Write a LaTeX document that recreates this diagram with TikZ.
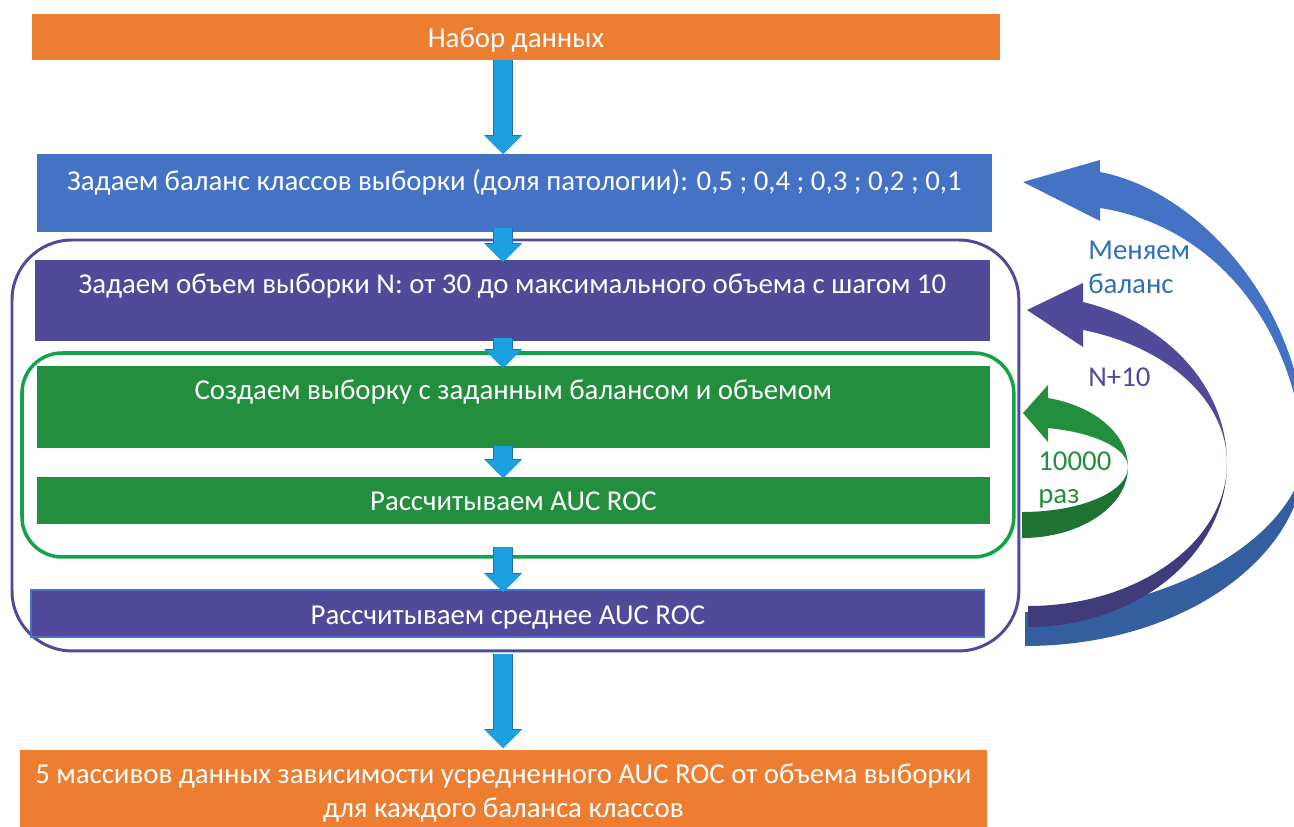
\documentclass[tikz,border=0pt]{standalone}
\usepackage{fontspec}
\setmainfont{Carlito}
\usetikzlibrary{arrows.meta, positioning, calc}
\definecolor{dataorange}{RGB}{237,125,49}
\definecolor{balanceblue}{RGB}{68,114,196}
\definecolor{balancedark}{RGB}{52,94,160}
\definecolor{balancetext}{RGB}{46,112,186}
\definecolor{sizepurple}{RGB}{81,74,155}
\definecolor{sizedark}{RGB}{64,60,124}
\definecolor{runsgreen}{RGB}{35,142,61}
\definecolor{runsdark}{RGB}{30,114,50}
\definecolor{runsframe}{RGB}{18,162,72}
\definecolor{flowfill}{RGB}{27,161,226}
\definecolor{flowedge}{RGB}{40,110,180}

\begin{document}
\begin{tikzpicture}[
  x=0.02cm, y=-0.02cm,
  every node/.style={font=\fontsize{16.4}{20}\selectfont},
  box/.style={anchor=north west, inner sep=0pt, outer sep=0pt,
    text=white, align=center},
  outerframe/.style={anchor=north west, inner sep=0pt, outer sep=0pt,
    draw=sizepurple, line width=1.7pt, rounded corners=1.2cm},
  innerframe/.style={anchor=north west, inner sep=0pt, outer sep=0pt,
    draw=runsframe, line width=2pt, rounded corners=0.8cm},
  flow/.style={draw=flowfill, line width=10pt,
    -{Triangle[length=10.2pt, width=20.4pt, line width=0pt]},
    preaction={draw=flowedge, line width=11pt,
      -{Triangle[length=10.8pt, width=21.6pt, line width=0pt]}}},
  loopnote/.style={anchor=north west, inner sep=0pt, align=left,
    font=\fontsize{16.4}{19.3}\selectfont}
]
  \useasboundingbox (0,0) rectangle (1294,827);

  % Рамки циклов
  \node[outerframe, minimum width=20.14cm, minimum height=8.22cm] (loopN) at (12,240) {};
  \node[innerframe, minimum width=19.84cm, minimum height=4.08cm] (loopR) at (22,353) {};

  % Блоки схемы
  \node[box, fill=dataorange, minimum width=19.36cm, text height=0.68cm, text depth=0.24cm] (data) at (32,14) {Набор данных};
  \node[box, fill=balanceblue, minimum width=19.10cm, text height=0.74cm, text depth=0.82cm] (balance) at (37,154) {Задаем баланс классов выборки (доля патологии): 0,5 ; 0,4 ; 0,3 ; 0,2 ; 0,1};
  \node[box, fill=sizepurple, minimum width=19.10cm, text height=0.68cm, text depth=0.94cm] (size) at (35,260) {Задаем объем выборки N: от 30 до максимального объема с шагом 10};
  \node[box, fill=runsgreen, minimum width=19.06cm, text height=0.68cm, text depth=0.96cm] (sample) at (37,366) {Создаем выборку с заданным балансом и объемом};
  \node[box, fill=runsgreen, minimum width=19.06cm, text height=0.68cm, text depth=0.26cm] (auc) at (37,477) {Рассчитываем AUC ROC};
  \node[box, fill=sizepurple, draw=balanceblue, line width=0.6pt, minimum width=19.08cm, text height=0.70cm, text depth=0.24cm] (mean) at (31,590) {Рассчитываем среднее AUC ROC};
  \node[box, fill=dataorange, minimum width=19.34cm, minimum height=1.72cm, font=\fontsize{16.4}{19.8}\selectfont] (result) at (20,750) {5 массивов данных зависимости усредненного AUC ROC от объема выборки\\для каждого баланса классов};

  % Стрелки вниз
  \coordinate (axis) at (503,0);
  \draw[flow] (data.south -| axis) -- (balance.north -| axis);
  \draw[flow] ($(balance.south -| axis)+(0,-4)$) -- ($(size.north -| axis)+(0,2)$);
  \draw[flow] ($(size.south -| axis)+(0,-3)$) -- ($(sample.north -| axis)+(0,2)$);
  \draw[flow] ($(sample.south -| axis)+(0,-2)$) -- ($(auc.north -| axis)+(0,1)$);
  \draw[flow] ($(loopR.south -| axis)+(0,-10)$) -- ($(mean.north -| axis)+(0,2)$);
  \draw[flow] ($(loopN.south -| axis)+(0,3)$) -- ($(result.north -| axis)+(0,-2)$);

  % Изогнутая стрелка: меняем баланс
  \fill[balanceblue] (1100,208) -- (1100,221) -- (1023,182) -- (1100,160) -- (1100,172)
    .. controls (1205,192) and (1312,320) .. (1305,460)
    .. controls (1295,320) and (1210,225) .. (1100,208) -- cycle;
  \fill[balancedark] (1305,460)
    .. controls (1300,560) and (1180,646) .. (1025,646) -- (1025,612)
    .. controls (1170,612) and (1290,540) .. (1305,460) -- cycle;

  % Изогнутая стрелка: N+10
  \fill[sizepurple] (1083,330) -- (1083,347) -- (1027,310) -- (1083,283) -- (1083,302)
    arc[start angle=-73.95, end angle=0, x radius=199, y radius=167.5]
    arc[start angle=0, end angle=-73.95, x radius=199, y radius=138.4] -- cycle;
  \fill[sizedark] (1227,463)
    arc[start angle=0, end angle=90, x radius=199, y radius=164] -- ++(0,-21)
    arc[start angle=90, end angle=0, x radius=199, y radius=143] -- cycle;

  % Изогнутая стрелка: 10000 раз
  \fill[runsgreen] (1048,428) -- (1048,442) -- (1023,413) -- (1048,385) -- (1048,398)
    arc[start angle=-75.8, end angle=0, x radius=106, y radius=71.2]
    arc[start angle=0, end angle=-75.8, x radius=106, y radius=40.2] -- cycle;
  \fill[runsdark] (1128,467)
    arc[start angle=0, end angle=90, x radius=106, y radius=71] -- ++(0,-26)
    arc[start angle=90, end angle=0, x radius=106, y radius=45] -- cycle;

  % Подписи циклов
  \node[loopnote, text=balancetext] (chbal) at (1088,241) {Меняем\\баланс};
  \node[loopnote, text=sizepurple] (stepN) at (1088,367) {N+10};
  \node[loopnote, text=runsgreen] (reps) at (1038,451) {10000\\раз};
\end{tikzpicture}
\end{document}
